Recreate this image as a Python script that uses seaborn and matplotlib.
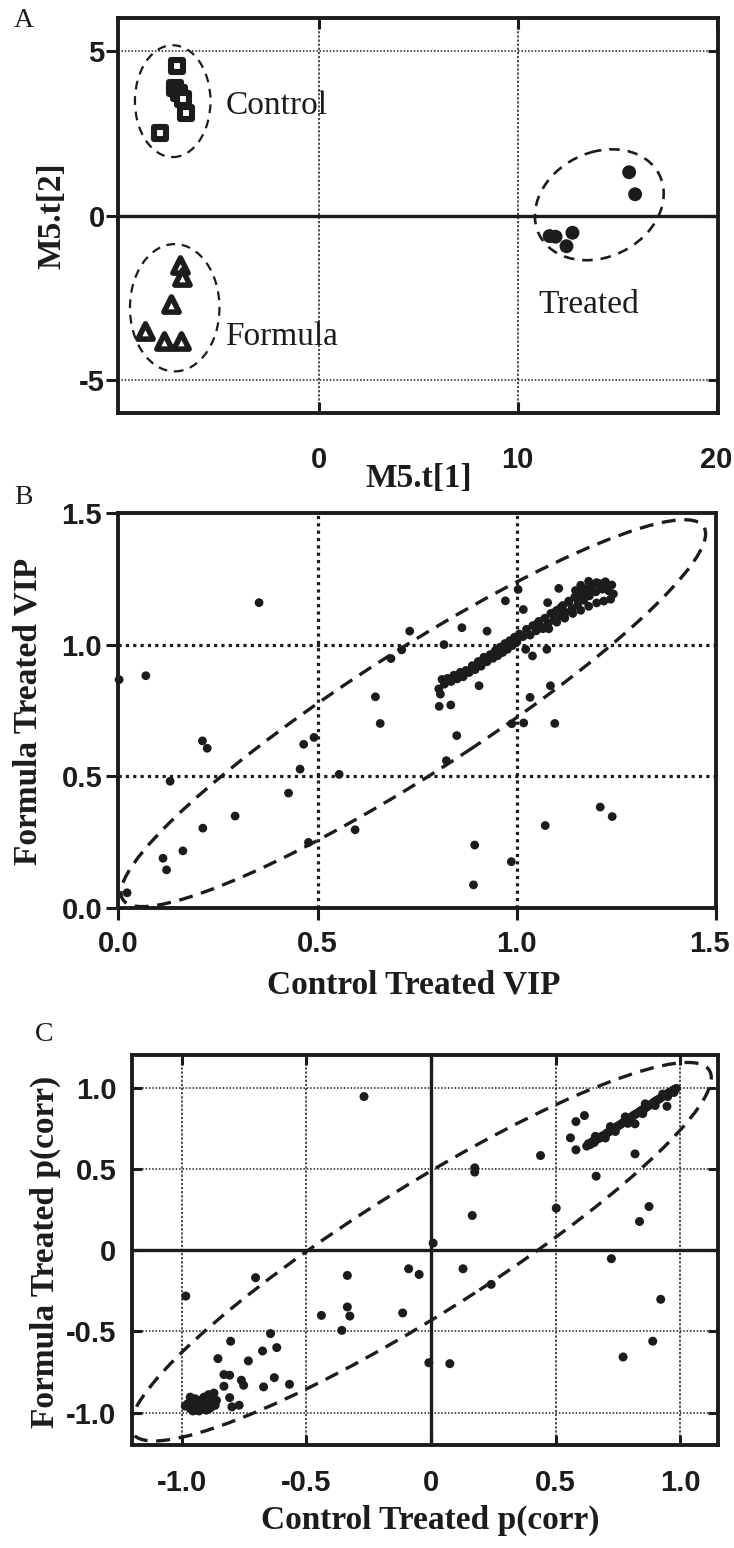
import numpy as np
import pandas as pd
import matplotlib
matplotlib.use("Agg")
import matplotlib.pyplot as plt
import matplotlib.transforms as mtrans
import seaborn as sns
from matplotlib.patches import Ellipse

# ---------------- data ----------------
# Panel A : PCA scores
ctrl_t1 = [-7.13, -7.23, -7.05, -6.85, -6.68, -8.00]
ctrl_t2 = [4.54, 3.88, 3.72, 3.56, 3.12, 2.52]
form_t1 = [-6.98, -6.90, -7.45, -8.72, -7.80, -6.92]
form_t2 = [-1.50, -1.86, -2.69, -3.51, -3.81, -3.81]
trt_t1 = [15.6, 15.9, 11.6, 11.9, 12.75, 12.45]
trt_t2 = [1.32, 0.65, -0.62, -0.64, -0.52, -0.93]
group_names = ["Control", "Formula", "Treated"]
ell_ctrl = dict(c=(-7.35, 3.48), w=3.8, h=3.4)
ell_form = dict(c=(-7.25, -2.80), w=4.5, h=3.87)
ell_trt = dict(c=(14.10, 0.33), u=(3.06, 0.86), v=(-1.06, 1.45))
a_xticks = [0, 10, 20]
a_yticks = [-5, 0, 5]

# Panel B : VIP values
vip_ct = [0.002, 0.069, 0.353, 0.022, 0.112, 0.121, 0.162, 0.130, 0.211, 0.223, 0.212, 0.293,
          0.427, 0.456, 0.465, 0.491, 0.477, 0.554, 0.594, 0.645, 0.657, 0.684, 0.711, 0.731,
          0.805, 0.834, 0.849, 0.817, 0.862, 0.905, 0.925, 0.971, 1.003, 1.016, 1.033, 0.987,
          1.017, 1.095, 1.084, 0.823, 0.894, 0.891, 0.986, 1.071, 1.209, 1.239, 1.077, 1.075,
          1.039, 1.022,
          0.804, 0.808, 0.812, 0.818, 0.826, 0.835, 0.842, 0.850, 0.858, 0.865, 0.872, 0.880,
          0.888, 0.895, 0.903, 0.910, 0.917, 0.925, 0.933, 0.940, 0.946, 0.952, 0.958, 0.964,
          0.970, 0.976, 0.982, 0.988, 0.994, 1.000, 1.006, 1.015, 1.024, 1.033, 1.040, 1.048,
          1.055, 1.062, 1.070, 1.078, 1.085, 1.092, 1.100, 1.108, 1.115, 1.122, 1.130, 1.138,
          1.145, 1.152, 1.160, 1.168, 1.175, 1.182, 1.190, 1.198, 1.206, 1.214, 1.222, 1.230,
          1.238, 1.242, 1.235, 1.226, 1.218, 1.210, 1.200, 1.190, 1.180, 1.170, 1.160, 1.150,
          1.140, 1.130, 1.120, 1.110, 1.100, 1.090, 1.080, 1.065, 1.050,
          1.105, 1.147, 1.180, 1.160, 1.200, 1.220]
vip_ft = [0.867, 0.882, 1.159, 0.059, 0.190, 0.146, 0.218, 0.482, 0.635, 0.607, 0.304, 0.350,
          0.437, 0.528, 0.622, 0.648, 0.250, 0.508, 0.298, 0.802, 0.701, 0.947, 0.980, 1.051,
          0.766, 0.771, 0.655, 1.000, 1.064, 0.844, 1.051, 1.166, 1.209, 1.133, 0.800, 0.700,
          0.703, 0.701, 0.844, 0.560, 0.240, 0.089, 0.177, 0.314, 0.384, 0.348, 1.159, 0.982,
          0.957, 0.982,
          0.832, 0.812, 0.868, 0.850, 0.872, 0.860, 0.884, 0.870, 0.895, 0.878, 0.902, 0.894,
          0.920, 0.905, 0.936, 0.918, 0.952, 0.935, 0.962, 0.948, 0.978, 0.958, 0.990, 0.970,
          1.004, 0.982, 1.015, 0.996, 1.028, 1.010, 1.040, 1.030, 1.058, 1.036, 1.072, 1.052,
          1.088, 1.066, 1.100, 1.080, 1.118, 1.092, 1.130, 1.110, 1.148, 1.122, 1.165, 1.135,
          1.180, 1.150, 1.195, 1.168, 1.212, 1.185, 1.228, 1.200, 1.232, 1.210, 1.238, 1.204,
          1.226, 1.192, 1.172, 1.218, 1.165, 1.222, 1.158, 1.205, 1.145, 1.195, 1.130, 1.176,
          1.118, 1.160, 1.100, 1.140, 1.085, 1.120, 1.060, 1.060, 1.078,
          1.213, 1.205, 1.240, 1.225, 1.235, 1.230]
ell_b = dict(c=(0.74, 0.74), w=2.036, h=0.396, angle=45)
b_ticks = [0.0, 0.5, 1.0, 1.5]
b_ticklabels = ["0.0", "0.5", "1.0", "1.5"]

# Panel C : p(corr) values
pc_ct = [-0.268, -0.983, -0.703, -0.335, -0.335, -0.325, -0.439, -0.357, -0.089, -0.047,
         -0.113, -0.643, -0.618, -0.675, -0.803, -0.854, -0.732, -0.628, -0.567, -0.671,
         -0.760, -0.751, -0.807, -0.830, -0.830, -0.807, -0.769, -0.798, -0.008, 0.076,
         0.009, 0.129, 0.242, 0.166, 0.176, 0.176, 0.440, 0.503, 0.724, 0.922, 0.890, 0.771,
         0.837, 0.875, 0.663, 0.819, 0.819, 0.560, 0.582, 0.582, 0.616, 0.947,
         -0.985, -0.975, -0.965, -0.958, -0.950, -0.945, -0.940, -0.935, -0.928, -0.922,
         -0.915, -0.910, -0.905, -0.898, -0.892, -0.888, -0.882, -0.875, -0.870, -0.865,
         -0.860, -0.955, -0.930, -0.900, -0.880, -0.965,
         0.625, 0.632, 0.640, 0.648, 0.655, 0.662, 0.670, 0.678, 0.685, 0.692, 0.700, 0.708,
         0.715, 0.722, 0.730, 0.738, 0.745, 0.752, 0.760, 0.768, 0.775, 0.782, 0.790, 0.798,
         0.805, 0.812, 0.820, 0.828, 0.835, 0.842, 0.850, 0.858, 0.865, 0.872, 0.880, 0.888,
         0.895, 0.902, 0.910, 0.918, 0.925, 0.932, 0.940, 0.948, 0.955, 0.962, 0.970, 0.978,
         0.985, 0.700, 0.740, 0.790, 0.850, 0.900, 0.950, 0.660, 0.720, 0.780, 0.860, 0.930,
         0.975]
pc_ft = [0.945, -0.283, -0.170, -0.156, -0.350, -0.406, -0.402, -0.494, -0.115, -0.150,
         -0.387, -0.514, -0.600, -0.621, -0.561, -0.668, -0.682, -0.785, -0.826, -0.842,
         -0.801, -0.832, -0.770, -0.766, -0.838, -0.908, -0.955, -0.965, -0.693, -0.699,
         0.043, -0.115, -0.211, 0.213, 0.506, 0.480, 0.582, 0.258, -0.053, -0.303, -0.561,
         -0.658, 0.176, 0.268, 0.455, 0.592, 0.777, 0.691, 0.791, 0.617, 0.828, 0.885,
         -0.960, -0.945, -0.975, -0.930, -0.960, -0.915, -0.985, -0.950, -0.925, -0.970,
         -0.940, -0.905, -0.960, -0.925, -0.890, -0.975, -0.945, -0.910, -0.880, -0.955,
         -0.925, -0.990, -0.990, -0.985, -0.965, -0.905,
         0.640, 0.655, 0.650, 0.668, 0.662, 0.678, 0.685, 0.690, 0.700, 0.705, 0.712, 0.722,
         0.728, 0.735, 0.742, 0.750, 0.758, 0.765, 0.772, 0.782, 0.790, 0.796, 0.805, 0.812,
         0.820, 0.828, 0.836, 0.842, 0.850, 0.858, 0.865, 0.872, 0.880, 0.888, 0.894, 0.902,
         0.910, 0.918, 0.925, 0.932, 0.940, 0.948, 0.955, 0.962, 0.968, 0.975, 0.982, 0.990,
         0.995, 0.690, 0.730, 0.780, 0.840, 0.890, 0.945, 0.700, 0.760, 0.820, 0.900, 0.960,
         0.970]
ell_c = dict(c=(-0.04, -0.01), w=3.227, h=0.665, angle=45)
c_ticks = [-1.0, -0.5, 0.0, 0.5, 1.0]
c_ticklabels = ["-1.0", "-0.5", "0", "0.5", "1.0"]

# ---------------- style ----------------
sns.set_style("white")
plt.rcParams["font.family"] = ["Liberation Sans Narrow", "Liberation Sans", "DejaVu Sans"]
INK = "#1c1c1c"
SERIF = ["Liberation Serif", "DejaVu Serif"]
TICKFAM = ["Liberation Sans Narrow", "Liberation Sans", "DejaVu Sans"]
TICKSIZE = 21
LABELFONT = dict(family=SERIF, weight="bold", size=24)

fig = plt.figure(figsize=(7.34, 15.48), dpi=100)
axA = fig.add_axes([0.1608, 0.7332, 0.8169, 0.2550])
axB = fig.add_axes([0.1612, 0.4132, 0.8146, 0.2556])
axC = fig.add_axes([0.1794, 0.0665, 0.7982, 0.2519])

for ax in (axA, axB, axC):
    for s in ax.spines.values():
        s.set_linewidth(2.8)
        s.set_color(INK)
        s.set_visible(True)
        s.set_zorder(5)

def style_ticklabels(ax):
    for lab in ax.get_xticklabels() + ax.get_yticklabels():
        lab.set_fontfamily(TICKFAM)
        lab.set_fontweight("bold")
        lab.set_fontsize(TICKSIZE)
        lab.set_color(INK)

# ---------------- Panel A ----------------
dA = pd.DataFrame({
    "t1": ctrl_t1 + form_t1 + trt_t1,
    "t2": ctrl_t2 + form_t2 + trt_t2,
    "grp": ["Control"] * len(ctrl_t1) + ["Formula"] * len(form_t1) + ["Treated"] * len(trt_t1),
})
sns.scatterplot(data=dA[dA.grp == "Control"], x="t1", y="t2", marker="s", s=80,
                facecolor="white", edgecolor=INK, linewidth=4.4, ax=axA, zorder=4, legend=False)
sns.scatterplot(data=dA[dA.grp == "Formula"], x="t1", y="t2", marker="^", s=120,
                facecolor="white", edgecolor=INK, linewidth=4.0, ax=axA, zorder=4, legend=False)
sns.scatterplot(data=dA[dA.grp == "Treated"], x="t1", y="t2", marker="o", s=100,
                color=INK, edgecolor="none", ax=axA, zorder=4, legend=False)

axA.set_xlim(-10.1, 20.05)
axA.set_ylim(-6, 6)
for yv in [-5, 5]:
    axA.axhline(yv, color=INK, lw=1.1, ls=(0, (1, 1.2)), zorder=1)
axA.axhline(0, color=INK, lw=2.4, zorder=1)
for xv in [0, 10]:
    axA.axvline(xv, color=INK, lw=1.1, ls=(0, (1.5, 1.2)), zorder=1)

dashA = (0, (4, 3))
for e in (ell_ctrl, ell_form):
    axA.add_patch(Ellipse(e["c"], e["w"], e["h"], fill=False, ec=INK, lw=1.6, ls=dashA, zorder=3))
M = np.array([[ell_trt["u"][0], ell_trt["v"][0]], [ell_trt["u"][1], ell_trt["v"][1]]])
U, S, Vt = np.linalg.svd(M)
axA.add_patch(Ellipse(ell_trt["c"], 2 * S[0], 2 * S[1],
                      angle=np.degrees(np.arctan2(U[1, 0], U[0, 0])),
                      fill=False, ec=INK, lw=1.9, ls=dashA, zorder=3))

txt_kw = dict(family=SERIF, fontsize=24, color=INK, ha="left", va="center", zorder=6)
axA.text(-4.70, 3.34, group_names[0], **txt_kw)
axA.text(-4.70, -3.67, group_names[1], **txt_kw)
axA.text(11.05, -2.71, group_names[2], **txt_kw)

axA.set_xticks(a_xticks)
axA.set_xticklabels([str(v) for v in a_xticks])
axA.set_yticks(a_yticks)
axA.set_yticklabels([str(v) for v in a_yticks])
axA.tick_params(axis="y", which="both", left=True, right=True, direction="out",
                length=8.6, width=2.2, color=INK, pad=1, labelright=False)
axA.tick_params(axis="x", which="both", bottom=True, top=True, direction="in",
                length=8, width=2.2, color=INK, pad=24)
for t in axA.yaxis.get_major_ticks():
    t.tick2line.set_marker(matplotlib.lines.TICKLEFT)
    t.tick2line.set_markersize(7)
style_ticklabels(axA)
axA.set_xlabel("M5.t[1]", **LABELFONT, color=INK)
axA.set_ylabel("M5.t[2]", **LABELFONT, color=INK)
axA.xaxis.set_label_coords(0.501, -0.165)
axA.xaxis.label.set_va("center")
axA.yaxis.set_label_coords(-0.110, 0.5)
axA.yaxis.label.set_va("center")

# ---------------- Panel B ----------------
dB = pd.DataFrame({"ct": vip_ct, "ft": vip_ft})
sns.scatterplot(data=dB, x="ct", y="ft", s=40, color=INK, edgecolor="none", ax=axB,
                zorder=4, legend=False, clip_on=False)
axB.set_xlim(0, 1.5)
axB.set_ylim(0, 1.5)
for v in [0.5, 1.0]:
    axB.axhline(v, color=INK, lw=2.3, ls=(0, (1, 1.3)), zorder=1)
    axB.axvline(v, color=INK, lw=2.3, ls=(0, (1, 1.3)), zorder=1)
axB.add_patch(Ellipse(ell_b["c"], ell_b["w"], ell_b["h"], angle=ell_b["angle"], fill=False,
                      ec=INK, lw=2.4, ls=(0, (4.2, 2.6)), zorder=3))
axB.set_xticks(b_ticks)
axB.set_xticklabels(b_ticklabels)
axB.set_yticks(b_ticks)
axB.set_yticklabels(b_ticklabels)
axB.tick_params(axis="both", which="both", bottom=True, left=True, top=False, right=False,
                direction="out", length=8.6, width=2.2, color=INK)
axB.tick_params(axis="x", pad=7)
axB.tick_params(axis="y", pad=3)
style_ticklabels(axB)
last = axB.get_xticklabels()[-1]
last.set_transform(last.get_transform() + mtrans.ScaledTranslation(-5 / 72, 0, fig.dpi_scale_trans))
axB.set_xlabel("Control Treated VIP", **LABELFONT, color=INK)
axB.set_ylabel("Formula Treated VIP", **LABELFONT, color=INK)
axB.xaxis.set_label_coords(0.4946, -0.194)
axB.xaxis.label.set_va("center")
axB.yaxis.set_label_coords(-0.151, 0.499)
axB.yaxis.label.set_va("center")

# ---------------- Panel C ----------------
dC = pd.DataFrame({"ct": pc_ct, "ft": pc_ft})
sns.scatterplot(data=dC, x="ct", y="ft", s=42, color=INK, edgecolor="none", ax=axC,
                zorder=4, legend=False)
axC.set_xlim(-1.2, 1.15)
axC.set_ylim(-1.2, 1.2)
for v in [-1.0, -0.5, 0.5, 1.0]:
    axC.axhline(v, color=INK, lw=1.1, ls=(0, (1, 1.2)), zorder=1)
    axC.axvline(v, color=INK, lw=1.1, ls=(0, (1.5, 1.2)), zorder=1)
axC.axhline(0, color=INK, lw=2.4, zorder=1)
axC.axvline(0, color=INK, lw=2.4, zorder=1)
axC.add_patch(Ellipse(ell_c["c"], ell_c["w"], ell_c["h"], angle=ell_c["angle"], fill=False,
                      ec=INK, lw=2.4, ls=(0, (4.2, 2.6)), zorder=3))
axC.set_xticks(c_ticks)
axC.set_xticklabels(c_ticklabels)
axC.set_yticks(c_ticks)
axC.set_yticklabels(c_ticklabels)
axC.tick_params(axis="both", which="both", bottom=True, left=True, top=True, right=True,
                direction="in", length=7, width=2.2, color=INK)
axC.tick_params(axis="x", pad=17)
axC.tick_params(axis="y", pad=11)
style_ticklabels(axC)
axC.set_xlabel("Control Treated p(corr)", **LABELFONT, color=INK)
axC.set_ylabel("Formula Treated p(corr)", **LABELFONT, color=INK)
axC.xaxis.set_label_coords(0.510, -0.192)
axC.xaxis.label.set_va("center")
axC.yaxis.set_label_coords(-0.148, 0.495)
axC.yaxis.label.set_va("center")

# panel letters
for lab, x, y in [("A", 14, 8), ("B", 14, 485), ("C", 35, 1022)]:
    fig.text(x / 734, 1 - y / 1548, lab, family=SERIF, fontsize=20, color=INK,
             ha="left", va="top")

fig.savefig("out.png", dpi=100)
